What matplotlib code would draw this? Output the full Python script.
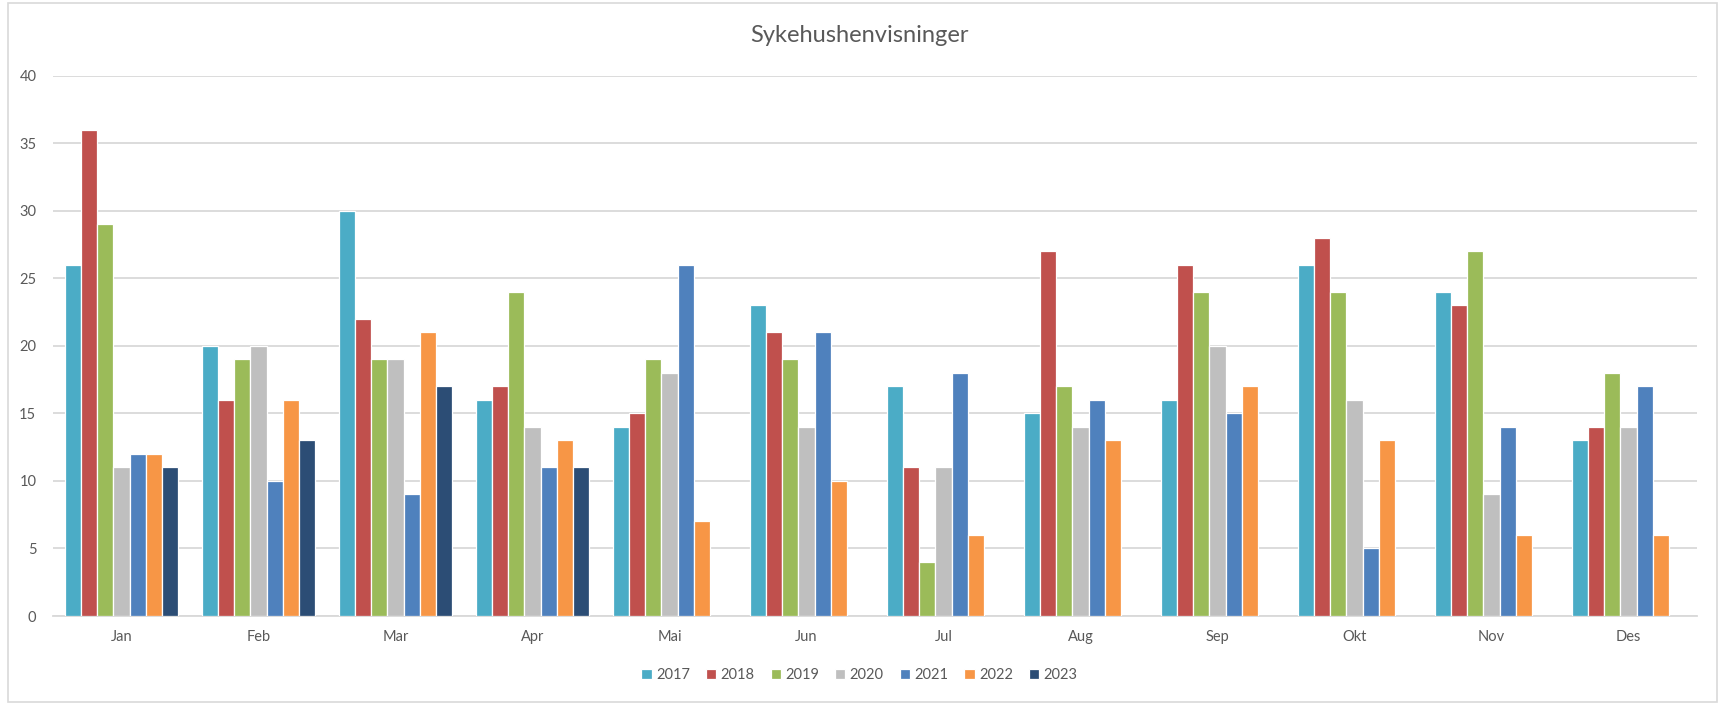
import numpy as np
import matplotlib.pyplot as plt
from matplotlib.patches import Rectangle

# Monthly counts per year (None = no data yet)
months = ['Jan', 'Feb', 'Mar', 'Apr', 'Mai', 'Jun', 'Jul', 'Aug', 'Sep', 'Okt', 'Nov', 'Des']
years = ['2017', '2018', '2019', '2020', '2021', '2022', '2023']

v2017 = [26, 20, 30, 16, 14, 23, 17, 15, 16, 26, 24, 13]
v2018 = [36, 16, 22, 17, 15, 21, 11, 27, 26, 28, 23, 14]
v2019 = [29, 19, 19, 24, 19, 19, 4, 17, 24, 24, 27, 18]
v2020 = [11, 20, 19, 14, 18, 14, 11, 14, 20, 16, 9, 14]
v2021 = [12, 10, 9, 11, 26, 21, 18, 16, 15, 5, 14, 17]
v2022 = [12, 16, 21, 13, 7, 10, 6, 13, 17, 13, 6, 6]
v2023 = [11, 13, 17, 11, None, None, None, None, None, None, None, None]

series = [v2017, v2018, v2019, v2020, v2021, v2022, v2023]
colors = ['#4BACC6', '#C0504D', '#9BBB59', '#BFBFBF', '#4F81BD', '#F79646', '#2C4D75']

plt.rcParams['font.family'] = ['Lato', 'DejaVu Sans']

fig = plt.figure(figsize=(17.19, 7.03), dpi=100)
ax = fig.add_axes([53 / 1719, 1 - 616 / 703, (1697 - 53) / 1719, (616 - 75.6) / 703])

x = np.arange(len(months))
slot = 0.117
for i, (vals, col, yr) in enumerate(zip(series, colors, years)):
    xs = [x[j] + (i - 3) * slot for j in range(len(vals)) if vals[j] is not None]
    hs = [v for v in vals if v is not None]
    ax.bar(xs, hs, width=slot, color=col, edgecolor='white', linewidth=0.9, label=yr, zorder=3)

ax.set_xlim(-0.5, len(months) - 0.5)
ax.set_ylim(0, 40)
ax.set_yticks(range(0, 41, 5))
ax.set_xticks(x)
ax.set_xticklabels(months)
ax.yaxis.grid(True, color='#D9D9D9', linewidth=1.3, zorder=0)
ax.tick_params(axis='both', length=0, labelsize=10.5, colors='#595959')
ax.tick_params(axis='y', pad=12)
ax.tick_params(axis='x', pad=10)
for s in ['top', 'right', 'left']:
    ax.spines[s].set_visible(False)
ax.spines['bottom'].set_color('#D9D9D9')
ax.spines['bottom'].set_linewidth(1.3)

fig.text(0.5, 1 - 36 / 703, 'Sykehushenvisninger', ha='center', va='center',
         fontsize=17, color='#595959')

fig.legend(loc='center', bbox_to_anchor=(0.5, 1 - 675 / 703), ncol=7, frameon=False,
           fontsize=10.5, labelcolor='#595959', handlelength=0.7, handleheight=0.7,
           handletextpad=0.3, columnspacing=1.1)

# chart area border
fig.patches.append(Rectangle((8 / 1719, 0.002), 1 - 10 / 1719, 0.994, transform=fig.transFigure,
                             fill=False, edgecolor='#D9D9D9', linewidth=1.2))

plt.savefig('out.png', dpi=100)
